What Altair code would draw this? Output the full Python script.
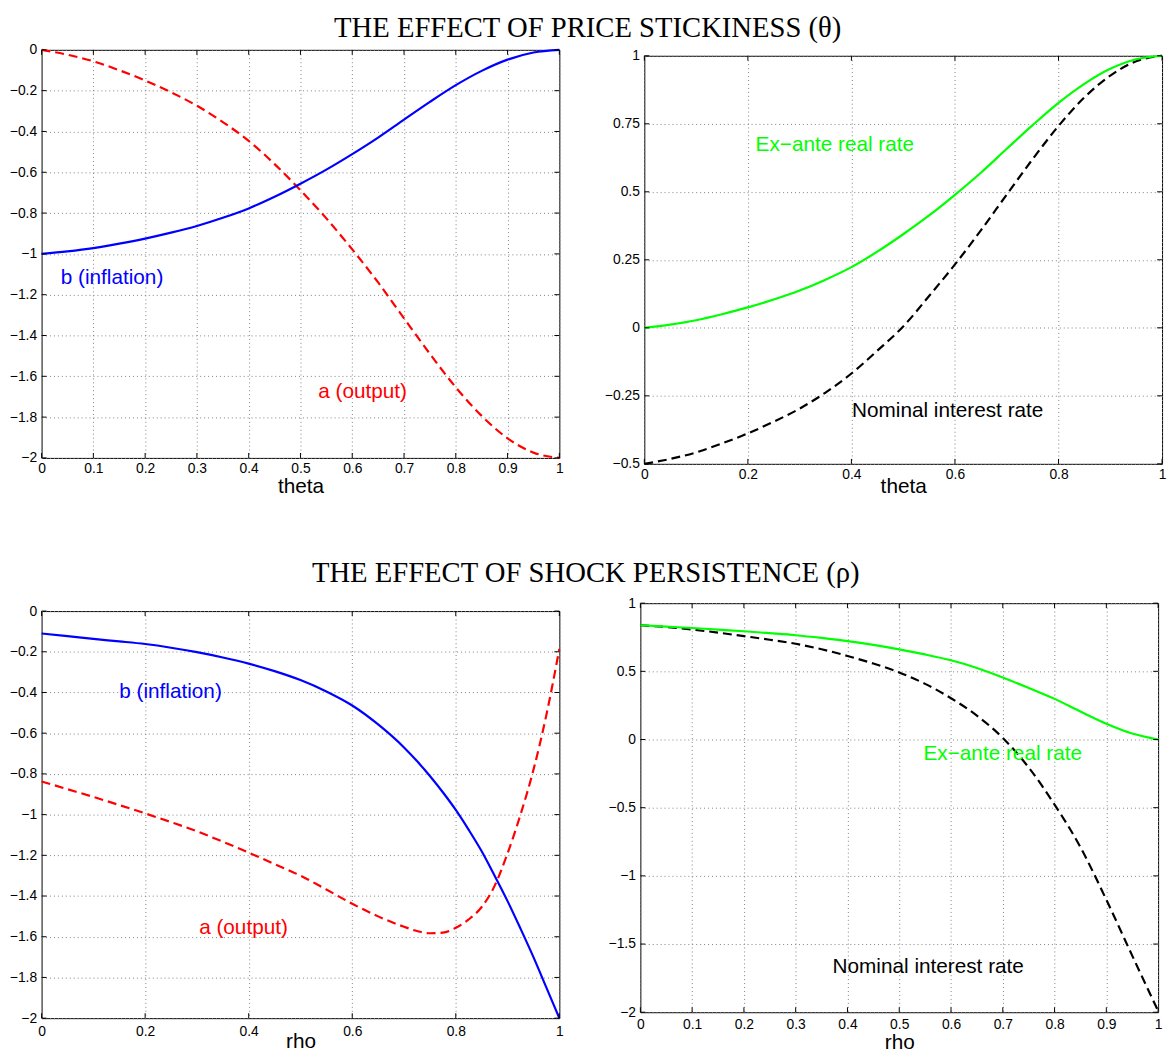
import altair as alt
import pandas as pd

# ---------------- data ----------------
theta = [0.0, 0.05, 0.1, 0.15, 0.2, 0.25, 0.3, 0.35, 0.4, 0.45, 0.5,
         0.55, 0.6, 0.65, 0.7, 0.75, 0.8, 0.85, 0.9, 0.95, 1.0]
b_theta = [-1.0, -0.988, -0.972, -0.95, -0.925, -0.896, -0.863, -0.823, -0.777, -0.72, -0.656,
           -0.587, -0.511, -0.43, -0.342, -0.255, -0.173, -0.103, -0.048, -0.013, 0.0]
a_theta = [0.0, -0.024, -0.056, -0.10, -0.15, -0.208, -0.274, -0.354, -0.446, -0.56, -0.688,
           -0.826, -0.978, -1.14, -1.316, -1.49, -1.654, -1.794, -1.904, -1.974, -2.0]
real_theta = [0.0, 0.012, 0.028, 0.05, 0.075, 0.104, 0.137, 0.177, 0.223, 0.28, 0.344,
              0.413, 0.489, 0.57, 0.658, 0.745, 0.827, 0.897, 0.952, 0.987, 1.0]
nom_theta = [-0.5, -0.482, -0.458, -0.425, -0.388, -0.345, -0.297, -0.238, -0.168, -0.084, 0.005,
             0.117, 0.233, 0.358, 0.49, 0.62, 0.742, 0.847, 0.927, 0.98, 1.0]

rho_fine = [0.0, 0.05, 0.1, 0.15, 0.2, 0.25, 0.3, 0.35, 0.4, 0.45, 0.5, 0.55, 0.6, 0.65,
            0.7, 0.725, 0.75, 0.775, 0.8, 0.825, 0.85, 0.875, 0.9, 0.925, 0.95, 0.975, 1.0]
b_rho = [-0.11, -0.123, -0.137, -0.149, -0.162, -0.18, -0.202, -0.228, -0.258, -0.295, -0.339,
         -0.395, -0.464, -0.557, -0.67, -0.737, -0.81, -0.89, -0.977, -1.075, -1.18, -1.30,
         -1.425, -1.56, -1.70, -1.85, -2.0]
a_rho = [-0.837, -0.875, -0.913, -0.953, -0.994, -1.037, -1.082, -1.133, -1.187, -1.243, -1.30,
         -1.368, -1.438, -1.50, -1.551, -1.572, -1.583, -1.58, -1.556, -1.515, -1.454, -1.35,
         -1.19, -1.0, -0.78, -0.51, -0.186]

rho = [0.0, 0.05, 0.1, 0.15, 0.2, 0.25, 0.3, 0.35, 0.4, 0.45, 0.5,
       0.55, 0.6, 0.65, 0.7, 0.75, 0.8, 0.85, 0.9, 0.95, 1.0]
real_rho = [0.838, 0.828, 0.818, 0.806, 0.794, 0.78, 0.765, 0.745, 0.722, 0.694, 0.661,
            0.624, 0.581, 0.525, 0.455, 0.378, 0.298, 0.205, 0.116, 0.044, 0.0]
nom_rho = [0.838, 0.825, 0.806, 0.784, 0.758, 0.732, 0.702, 0.662, 0.613, 0.557, 0.492,
           0.408, 0.303, 0.175, 0.012, -0.205, -0.477, -0.79, -1.175, -1.585, -1.99]

x_ticks_01 = [0, 0.1, 0.2, 0.3, 0.4, 0.5, 0.6, 0.7, 0.8, 0.9, 1]
x_ticks_02 = [0, 0.2, 0.4, 0.6, 0.8, 1]
y_ticks_ab = [0, -0.2, -0.4, -0.6, -0.8, -1, -1.2, -1.4, -1.6, -1.8, -2]
y_ticks_tr = [1, 0.75, 0.5, 0.25, 0, -0.25, -0.5]
y_ticks_br = [1, 0.5, 0, -0.5, -1, -1.5, -2]

title_top = "THE EFFECT OF PRICE STICKINESS (θ)"
title_bottom = "THE EFFECT OF SHOCK PERSISTENCE (ρ)"

labels_tl = {"text": ["b (inflation)", "a (output)"], "x": [0.136, 0.62], "y": [-1.117, -1.679],
             "color": ["#0000ff", "#ff0000"]}
labels_tr = {"text": ["Ex−ante real rate", "Nominal interest rate"], "x": [0.368, 0.586],
             "y": [0.673, -0.307], "color": ["#00ff00", "#000000"]}
labels_bl = {"text": ["b (inflation)", "a (output)"], "x": [0.249, 0.39], "y": [-0.40, -1.559],
             "color": ["#0000ff", "#ff0000"]}
labels_br = {"text": ["Ex−ante real rate", "Nominal interest rate"], "x": [0.70, 0.556],
             "y": [-0.107, -1.668], "color": ["#00ff00", "#000000"]}

SANS = "Liberation Sans"
SERIF = "Liberation Serif"
TICK = 5
FMT = ".2~f"
W = 524


def panel(series, xticks, yticks, ydom, H, xtitle, labels, yext, label_pad, title_pad):
    xscale = alt.Scale(domain=[0, 1], nice=False, zero=False)
    yscale = alt.Scale(domain=ydom, nice=False, zero=False)
    xaxis = alt.Axis(values=xticks, format=FMT, title=xtitle, grid=True, ticks=False,
                     domain=False, labelPadding=label_pad, titlePadding=title_pad,
                     labelFlush=False, labelOverlap=False)
    yaxis = alt.Axis(values=yticks, format=FMT, title=None, grid=True, ticks=False,
                     domain=False, labelPadding=5, minExtent=yext, maxExtent=yext,
                     labelOverlap=False)
    layers = []
    for xs, vals, color, dash in series:
        df = pd.DataFrame({"x": xs, "y": vals})
        kw = dict(color=color, strokeWidth=2.2, interpolate="monotone")
        if dash:
            kw["strokeDash"] = dash
        layers.append(alt.Chart(df).mark_line(**kw).encode(
            x=alt.X("x:Q", scale=xscale, axis=xaxis),
            y=alt.Y("y:Q", scale=yscale, axis=yaxis)))
    xt = pd.DataFrame({"x": xticks})
    yt = pd.DataFrame({"y": yticks})
    for (a, b) in [(H, H - TICK), (0, TICK)]:
        layers.append(alt.Chart(xt).mark_rule(color="black", strokeWidth=1).encode(
            x=alt.X("x:Q", scale=xscale, axis=xaxis), y=alt.value(a), y2=alt.value(b)))
    for (a, b) in [(0, TICK), (W - TICK, W)]:
        layers.append(alt.Chart(yt).mark_rule(color="black", strokeWidth=1).encode(
            y=alt.Y("y:Q", scale=yscale, axis=yaxis), x=alt.value(a), x2=alt.value(b)))
    lab = pd.DataFrame(labels)
    layers.append(alt.Chart(lab).mark_text(font=SANS, fontSize=21).encode(
        x=alt.X("x:Q", scale=xscale, axis=xaxis),
        y=alt.Y("y:Q", scale=yscale, axis=yaxis),
        text="text:N",
        color=alt.Color("color:N", scale=None)))
    return alt.layer(*layers).properties(width=W, height=H)


def spacer():
    return alt.Chart(pd.DataFrame({"v": [0]})).mark_rule(strokeOpacity=0).encode(
        x=alt.value(0), x2=alt.value(1), y=alt.value(0)
    ).properties(width=W, height=1, view=alt.ViewBackground(stroke="transparent"))


tl = panel([(theta, a_theta, "#ff0000", [9, 5]), (theta, b_theta, "#0000ff", None)],
           x_ticks_01, y_ticks_ab, [-2, 0], 413, "theta", labels_tl, 33,
           label_pad=4, title_pad=0)
tr = panel([(theta, nom_theta, "#000000", [9, 5]), (theta, real_theta, "#00ff00", None)],
           x_ticks_02, y_ticks_tr, [-0.5, 1], 413, "theta", labels_tr, 36,
           label_pad=4, title_pad=-6)
bl = panel([(rho_fine, a_rho, "#ff0000", [9, 5]), (rho_fine, b_rho, "#0000ff", None)],
           x_ticks_02, y_ticks_ab, [-2, 0], 412, "rho", labels_bl, 33,
           label_pad=7, title_pad=-8)
br = panel([(rho, nom_rho, "#000000", [9, 5]), (rho, real_rho, "#00ff00", None)],
           x_ticks_01, y_ticks_br, [-2, 1], 414, "rho", labels_br, 36,
           label_pad=5, title_pad=1)

tr_cell = alt.vconcat(spacer(), tr, spacing=5, bounds="flush")
bl_cell = alt.vconcat(spacer(), bl, spacing=7, bounds="flush")

row1 = alt.hconcat(tl, tr_cell, spacing=40).properties(
    title=alt.TitleParams(title_top, font=SERIF, fontSize=29, fontWeight="normal",
                          anchor="middle", offset=-1, color="black"))
row2 = alt.hconcat(bl_cell, br, spacing=40).properties(
    title=alt.TitleParams(title_bottom, font=SERIF, fontSize=29, fontWeight="normal",
                          anchor="middle", offset=8, color="black"))

chart = alt.vconcat(row1, row2, spacing=62).properties(padding=0).configure_view(
    stroke="black", strokeWidth=1
).configure_axis(
    labelFont=SANS, labelFontSize=14, labelColor="black",
    titleFont=SANS, titleFontSize=21, titleFontWeight="normal", titleColor="black",
    gridColor="#808080", gridDash=[1, 3], gridOpacity=1, gridWidth=1
)

chart.save("out.html", embed_options={"renderer": "svg", "actions": False})
